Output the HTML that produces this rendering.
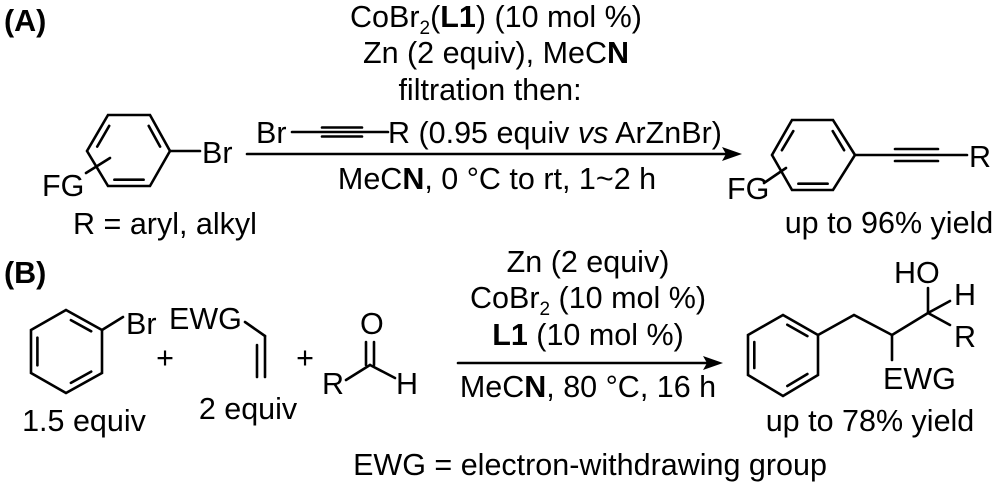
<!DOCTYPE html>
<html><head><meta charset="utf-8"><style>
html,body{margin:0;padding:0;background:#fff;}
svg{display:block;}
text{font-family:"Liberation Sans",Arial,sans-serif;font-size:30.5px;fill:#000;}
</style></head><body>
<svg width="1000" height="487" viewBox="0 0 1000 487" xmlns="http://www.w3.org/2000/svg">
<g stroke="#000" stroke-width="2.6" fill="none" stroke-linecap="round">
<polygon points="108,115 150,115 170,151 150,186 108,186 87,151"/>
<line x1="97.2" y1="146.6" x2="109.2" y2="125.9"/>
<line x1="148.7" y1="125.9" x2="160.1" y2="146.6"/>
<line x1="114.4" y1="179.7" x2="143.6" y2="179.7"/>
<line x1="170" y1="151" x2="200" y2="151"/>
<line x1="86" y1="173" x2="110" y2="158"/>
<line x1="247" y1="154" x2="728" y2="154"/>
<line x1="292" y1="132" x2="388" y2="132"/>
<line x1="322" y1="127.5" x2="362" y2="127.5"/>
<line x1="322" y1="136.5" x2="362" y2="136.5"/>
<polygon points="792,120 833,120 855,155 833,190 792,190 772,155"/>
<line x1="781.9" y1="150.2" x2="793.3" y2="131.1"/>
<line x1="832.7" y1="131.1" x2="844.1" y2="150.2"/>
<line x1="798.4" y1="183.7" x2="827.6" y2="183.7"/>
<line x1="855" y1="155" x2="967" y2="155"/>
<line x1="895" y1="149" x2="938" y2="149"/>
<line x1="895" y1="161" x2="938" y2="161"/>
<line x1="764" y1="183" x2="786" y2="168"/>
<polygon points="66,310 102,330 102,373 66,393 31,373 31,330"/>
<line x1="37.4" y1="337.7" x2="37.4" y2="365.3"/>
<line x1="70.9" y1="320.1" x2="91.2" y2="331.3"/>
<line x1="91.2" y1="371.6" x2="70.9" y2="382.9"/>
<line x1="102" y1="330" x2="123" y2="317"/>
<line x1="245" y1="322" x2="265" y2="336"/>
<line x1="265" y1="336" x2="265" y2="377"/>
<line x1="257" y1="345" x2="257" y2="377"/>
<line x1="346" y1="380" x2="370" y2="365"/>
<line x1="370" y1="365" x2="395" y2="378"/>
<line x1="366" y1="365" x2="366" y2="342"/>
<line x1="374" y1="365" x2="374" y2="342"/>
<line x1="458" y1="363" x2="708" y2="363"/>
<polygon points="783,315 818,335 818,375 783,396 748,375 748,335"/>
<line x1="754.3" y1="342" x2="754.3" y2="368"/>
<line x1="787.3" y1="324.7" x2="807.4" y2="336.1"/>
<line x1="807.4" y1="374" x2="787.3" y2="386"/>
<polyline points="818,335 854,315 892,335 928,313"/>
<line x1="892" y1="335" x2="892" y2="360"/>
<line x1="928" y1="313" x2="928" y2="288"/>
<line x1="928" y1="313" x2="950" y2="301"/>
<line x1="928" y1="313" x2="950" y2="325"/>
</g>
<polygon points="742,154 722,147 726,154 722,161" fill="#000"/>
<polygon points="723,363 703,356 707,363 703,370" fill="#000"/>

<text x="4" y="31" font-weight="bold">(A)</text>
<text x="4" y="283" font-weight="bold">(B)</text>

<text x="202" y="163">Br</text>
<text x="42" y="196">FG</text>
<text x="165" y="234" text-anchor="middle">R = aryl, alkyl</text>

<text x="496" y="27" text-anchor="middle">CoBr<tspan font-size="19" dy="7">2</tspan><tspan dy="-7">(</tspan><tspan font-weight="bold">L1</tspan>) (10 mol %)</text>
<text x="496" y="63" text-anchor="middle">Zn (2 equiv), MeC<tspan font-weight="bold">N</tspan></text>
<text x="490" y="100" text-anchor="middle">filtration then:</text>
<text x="256" y="143">Br</text>
<text x="388" y="143">R (0.95 equiv <tspan font-style="italic">vs</tspan> ArZnBr)</text>
<text x="497" y="189" text-anchor="middle">MeC<tspan font-weight="bold">N</tspan>, 0 °C to rt, 1~2 h</text>

<text x="727" y="199">FG</text>
<text x="969" y="167">R</text>
<text x="889" y="233" text-anchor="middle">up to 96% yield</text>

<text x="126" y="334">Br</text>
<text x="165" y="368" text-anchor="middle">+</text>
<text x="169" y="329">EWG</text>
<text x="305" y="368" text-anchor="middle">+</text>
<text x="322" y="394">R</text>
<text x="360" y="334">O</text>
<text x="396" y="394">H</text>
<text x="84" y="431" text-anchor="middle">1.5 equiv</text>
<text x="248" y="419" text-anchor="middle">2 equiv</text>

<text x="588" y="272" text-anchor="middle">Zn (2 equiv)</text>
<text x="588" y="308" text-anchor="middle">CoBr<tspan font-size="19" dy="7">2</tspan><tspan dy="-7"> (10 mol %)</tspan></text>
<text x="588" y="345" text-anchor="middle"><tspan font-weight="bold">L1</tspan> (10 mol %)</text>
<text x="588" y="397" text-anchor="middle">MeC<tspan font-weight="bold">N</tspan>, 80 °C, 16 h</text>

<text x="894" y="283">HO</text>
<text x="954" y="305">H</text>
<text x="954" y="347">R</text>
<text x="883" y="389">EWG</text>
<text x="870" y="431" text-anchor="middle">up to 78% yield</text>

<text x="590" y="475" text-anchor="middle">EWG = electron-withdrawing group</text>
</svg>
</body></html>
